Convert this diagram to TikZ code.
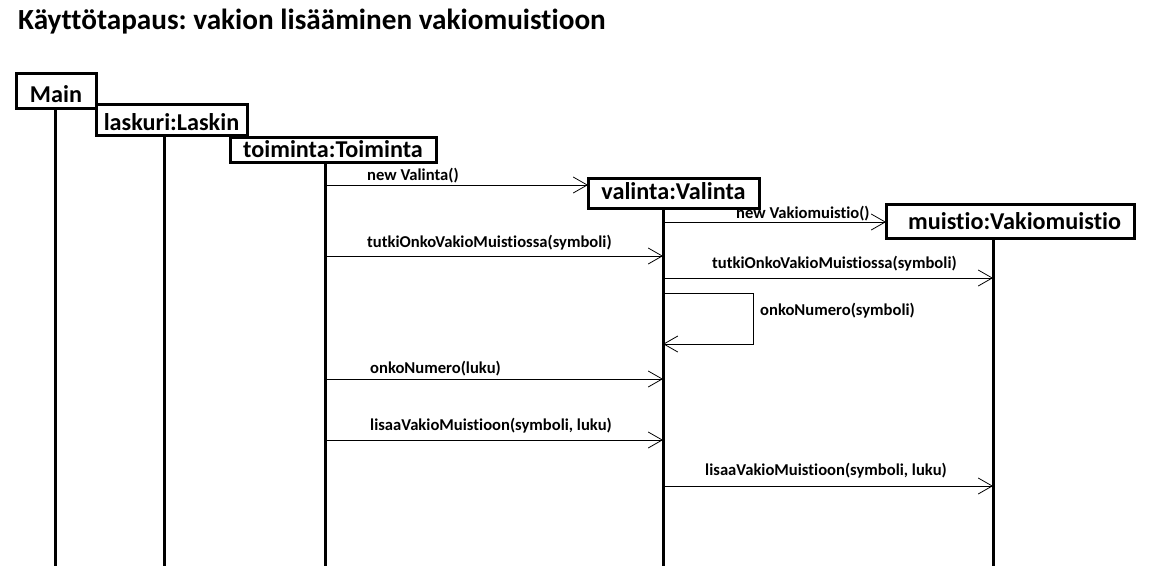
\documentclass[tikz,border=0pt]{standalone}
\usepackage{fontspec}
\setmainfont{Carlito}[Ligatures=NoCommon]
\usetikzlibrary{arrows.meta}
\frenchspacing

\begin{document}
\begin{tikzpicture}[x=1pt,y=-1pt,
    obj/.style={draw,line width=3pt,fill=white,anchor=north west,inner sep=0pt,outer sep=0pt,
      font=\fontsize{24.2}{27}\selectfont\bfseries},
    life/.style={line width=3pt},
    msg/.style={line width=1pt,-{Straight Barb[length=14pt,width=16pt,line width=0.8pt]}},
    lbl/.style={anchor=base west,inner sep=0pt,font=\fontsize{16.6}{18}\selectfont\bfseries}]
  \useasboundingbox (0,0) rectangle (1155,566);

  \node[anchor=base west,inner sep=0pt,font=\fontsize{29.2}{32}\selectfont\bfseries] (title) at (18,29)
    {Käyttötapaus: vakion lisääminen vakiomuistioon};

  % objects, each one drawn over the previous
  \node[obj,minimum width=80pt,minimum height=35pt,text height=23pt,text depth=0pt] (main) at (16,73) {Main};
  \node[obj,minimum width=151pt,minimum height=31pt,text height=21pt,text depth=0pt] (lask) at (96,104) {laskuri:Laskin};
  \node[obj,minimum width=206pt,minimum height=25pt] (toim) at (230,137) {toiminta:Toiminta};
  \node[obj,minimum width=171pt,minimum height=30pt,text height=17pt,text depth=5pt] (vali) at (588,178) {valinta:Valinta};
  \node[obj,minimum width=248pt,minimum height=34pt,text width=222pt,align=right] (muis) at (886,204) {muistio:Vakiomuistio};

  % lifelines
  \foreach \o/\lx in {main/55,lask/164,toim/325,vali/663,muis/993} {
    \coordinate (\o-top) at (\lx,0 |- \o.south);
    \coordinate (\o-end) at (\lx,566);
    \draw[life] (\o-top) -- (\o-end);
  }

  % messages
  \draw[msg] (toim-end |- 0,185) -- (vali.west |- 0,185);
  \node[lbl] (m1) at (367,180) {new Valinta()};

  \draw[msg] (vali-end |- 0,222) -- (muis.west |- 0,222);
  \node[lbl] (m2) at (736,218) {new Vakiomuistio()};

  \draw[msg] (toim-end |- 0,256) -- (vali-end |- 0,256);
  \node[lbl] (m3) at (367,247) {tutkiOnkoVakioMuistiossa(symboli)};

  \draw[msg] (vali-end |- 0,278) -- (muis-end |- 0,278);
  \node[lbl] (m4) at (712,268) {tutkiOnkoVakioMuistiossa(symboli)};

  \draw[msg] (vali-end |- 0,293) -| (753,344) -- (vali-end |- 0,344);
  \node[lbl] (m5) at (760,315) {onkoNumero(symboli)};

  \draw[msg] (toim-end |- 0,379) -- (vali-end |- 0,379);
  \node[lbl] (m6) at (370,373) {onkoNumero(luku)};

  \draw[msg] (toim-end |- 0,440) -- (vali-end |- 0,440);
  \node[lbl] (m7) at (370,430) {lisaaVakioMuistioon(symboli, luku)};

  \draw[msg] (vali-end |- 0,486) -- (muis-end |- 0,486);
  \node[lbl] (m8) at (705,475) {lisaaVakioMuistioon(symboli, luku)};
\end{tikzpicture}
\end{document}
